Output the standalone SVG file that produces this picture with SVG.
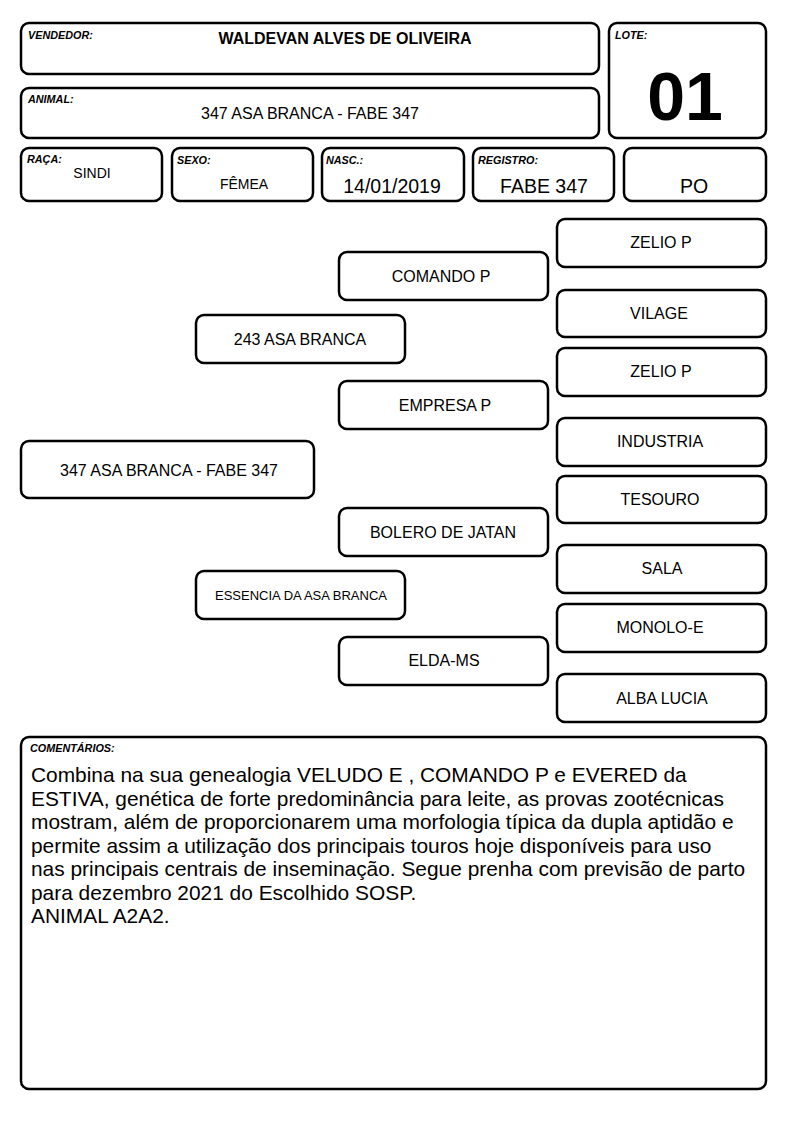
<svg xmlns="http://www.w3.org/2000/svg" width="794" height="1123" viewBox="0 0 794 1123">
<style>
.box{fill:#fff;stroke:#000;stroke-width:2.5}
.lbl{font-family:"Liberation Sans",Arial,sans-serif;font-size:10.8px;font-weight:bold;font-style:italic;fill:#000}
.val{font-family:"Liberation Sans",Arial,sans-serif;font-size:16px;fill:#000;text-anchor:middle}
.sm{font-family:"Liberation Sans",Arial,sans-serif;font-size:14px;fill:#000;text-anchor:middle}
.big{font-family:"Liberation Sans",Arial,sans-serif;font-size:19.5px;fill:#000;text-anchor:middle}
.nd{font-family:"Liberation Sans",Arial,sans-serif;font-size:16px;fill:#000;text-anchor:middle}
.nds{font-family:"Liberation Sans",Arial,sans-serif;font-size:13px;fill:#000;text-anchor:middle}
.cm{font-family:"Liberation Sans",Arial,sans-serif;font-size:20.9px;fill:#000}
</style>
<rect width="794" height="1123" fill="#fff"/>
<g id="vendedor"><rect class="box" x="21" y="23" width="578" height="51" rx="8"/><text class="lbl" x="28" y="39">VENDEDOR:</text><text class="val" x="345" y="44" font-weight="bold">WALDEVAN ALVES DE OLIVEIRA</text></g>
<g id="animal"><rect class="box" x="21" y="88" width="578" height="50" rx="8"/><text class="lbl" x="28" y="103">ANIMAL:</text><text class="val" x="310" y="119">347 ASA BRANCA - FABE 347</text></g>
<g id="lote"><rect class="box" x="609" y="23" width="157" height="115" rx="8"/><text class="lbl" x="615" y="39">LOTE:</text><text x="685" y="120" font-family="Liberation Sans,Arial,sans-serif" font-size="68" font-weight="bold" text-anchor="middle">01</text></g>
<g id="raca"><rect class="box" x="21" y="148" width="141" height="53" rx="8"/><text class="lbl" x="27" y="163">RAÇA:</text><text class="sm" x="92" y="178">SINDI</text></g>
<g id="sexo"><rect class="box" x="172" y="148" width="141" height="53" rx="8"/><text class="lbl" x="177" y="164">SEXO:</text><text class="sm" x="244" y="189">FÊMEA</text></g>
<g id="nasc"><rect class="box" x="322" y="148" width="142" height="53" rx="8"/><text class="lbl" x="326" y="164">NASC.:</text><text class="big" x="392" y="193">14/01/2019</text></g>
<g id="registro"><rect class="box" x="473" y="148" width="141" height="53" rx="8"/><text class="lbl" x="478" y="164">REGISTRO:</text><text class="big" x="544" y="193">FABE 347</text></g>
<g id="po"><rect class="box" x="624" y="148" width="142" height="53" rx="8"/><text class="big" x="694" y="193">PO</text></g>
<g id="connectors"></g>
<g id="n347"><rect class="box" x="21" y="441" width="293" height="57" rx="8"/><text class="nd" x="169" y="476">347 ASA BRANCA - FABE 347</text></g>
<g id="n243"><rect class="box" x="196" y="315" width="209" height="48" rx="8"/><text class="nd" x="300" y="345">243 ASA BRANCA</text></g>
<g id="nessencia"><rect class="box" x="196" y="571" width="209" height="48" rx="8"/><text class="nds" x="301" y="600">ESSENCIA DA ASA BRANCA</text></g>
<g id="ncomando"><rect class="box" x="339" y="252" width="209" height="48" rx="8"/><text class="nd" x="441" y="282">COMANDO P</text></g>
<g id="nempresa"><rect class="box" x="339" y="381" width="209" height="48" rx="8"/><text class="nd" x="445" y="411">EMPRESA P</text></g>
<g id="nbolero"><rect class="box" x="339" y="508" width="209" height="48" rx="8"/><text class="nd" x="443" y="538">BOLERO DE JATAN</text></g>
<g id="nelda"><rect class="box" x="339" y="637" width="209" height="48" rx="8"/><text class="nd" x="444" y="666">ELDA-MS</text></g>
<g id="nzelio1"><rect class="box" x="557" y="219" width="209" height="48" rx="8"/><text class="nd" x="661" y="248">ZELIO P</text></g>
<g id="nvilage"><rect class="box" x="557" y="290" width="209" height="47" rx="8"/><text class="nd" x="659" y="319">VILAGE</text></g>
<g id="nzelio2"><rect class="box" x="557" y="348" width="209" height="48" rx="8"/><text class="nd" x="661" y="377">ZELIO P</text></g>
<g id="nindustria"><rect class="box" x="557" y="418" width="209" height="48" rx="8"/><text class="nd" x="660" y="447">INDUSTRIA</text></g>
<g id="ntesouro"><rect class="box" x="557" y="476" width="209" height="47" rx="8"/><text class="nd" x="660" y="505">TESOURO</text></g>
<g id="nsala"><rect class="box" x="557" y="545" width="209" height="48" rx="8"/><text class="nd" x="662" y="574">SALA</text></g>
<g id="nmonolo"><rect class="box" x="557" y="604" width="209" height="48" rx="8"/><text class="nd" x="660" y="633">MONOLO-E</text></g>
<g id="nalba"><rect class="box" x="557" y="674" width="209" height="48" rx="8"/><text class="nd" x="662" y="704">ALBA LUCIA</text></g>
<g id="comentarios"><rect class="box" x="21" y="737" width="745" height="352" rx="8"/><text class="lbl" x="30" y="752">COMENTÁRIOS:</text>
<text class="cm" x="31" y="782">Combina na sua genealogia VELUDO E , COMANDO P e EVERED da</text>
<text class="cm" x="31" y="805.5">ESTIVA, genética de forte predominância para leite, as provas zootécnicas</text>
<text class="cm" x="31" y="829">mostram, além de proporcionarem uma morfologia típica da dupla aptidão e</text>
<text class="cm" x="31" y="852.5">permite assim a utilização dos principais touros hoje disponíveis para uso</text>
<text class="cm" x="31" y="876">nas principais centrais de inseminação. Segue prenha com previsão de parto</text>
<text class="cm" x="31" y="899.5">para dezembro 2021 do Escolhido SOSP.</text>
<text class="cm" x="31" y="923">ANIMAL A2A2.</text>
</g>
</svg>
